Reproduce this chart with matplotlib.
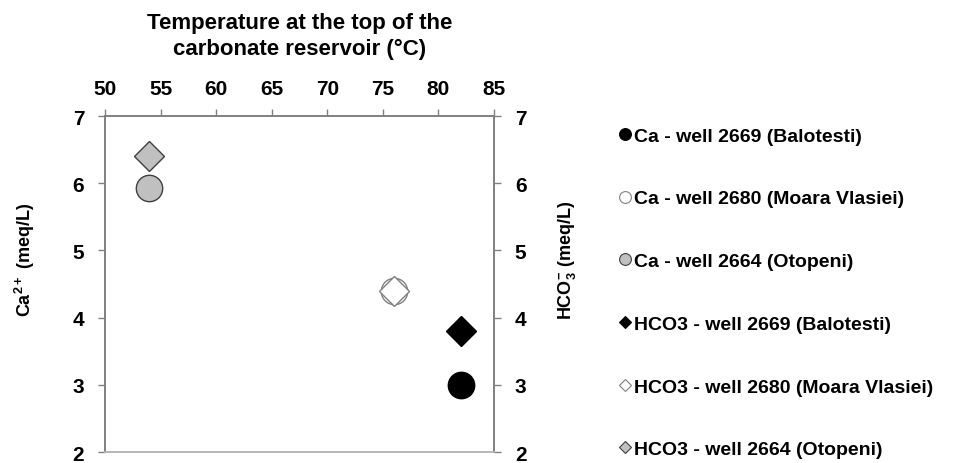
import matplotlib
matplotlib.use('Agg')
import matplotlib.pyplot as plt
from matplotlib.lines import Line2D

plt.rcParams['font.family'] = ['Liberation Sans', 'DejaVu Sans']
plt.rcParams['font.weight'] = 'bold'
plt.rcParams['mathtext.fontset'] = 'custom'
plt.rcParams['mathtext.rm'] = 'Liberation Sans:bold'
plt.rcParams['mathtext.bf'] = 'Liberation Sans:bold'
plt.rcParams['mathtext.default'] = 'bf'

# wells: 2669 (Balotesti), 2680 (Moara Vlasiei), 2664 (Otopeni)
wells = ['2669 (Balotesti)', '2680 (Moara Vlasiei)', '2664 (Otopeni)']
temperature = [82, 76, 54]
ca = [3.0, 4.4, 5.93]
hco3 = [3.8, 4.4, 6.4]

x_ticks = [50, 55, 60, 65, 70, 75, 80, 85]
y_ticks = [2, 3, 4, 5, 6, 7]

face = ['black', 'white', '#c0c0c0']
edge = ['black', '#808080', '#404040']

fig = plt.figure(figsize=(9.76, 4.64), dpi=100)
ax = fig.add_axes([0.1076, 0.0237, 0.3986, 0.7241])
ax2 = ax.twinx()

# Ca circles (left axis) then HCO3 diamonds (right axis)
for i in range(len(wells)):
    ax.plot(temperature[i], ca[i], ls='none', marker='o', ms=19,
            mfc=face[i], mec=edge[i], mew=1.0, zorder=3)
    ax2.plot(temperature[i], hco3[i], ls='none', marker='D', ms=15,
             mfc=face[i], mec=edge[i], mew=1.0, zorder=4)

for a in (ax, ax2):
    a.set_xlim(50, 85)
    a.set_ylim(2, 7)
    a.set_yticks(y_ticks)
    for side in ('left', 'right', 'top'):
        a.spines[side].set_color('#808080')
        a.spines[side].set_linewidth(1.2)
    a.spines['bottom'].set_color('#b8b8b8')
    a.spines['bottom'].set_linewidth(1.2)

ax.xaxis.tick_top()
ax.set_xticks(x_ticks)
ax.tick_params(axis='x', direction='out', length=5, width=1, color='#808080',
               pad=8, labelsize=15)
ax.tick_params(axis='y', direction='out', length=5, width=1, color='#808080',
               pad=10, labelsize=15)
ax2.tick_params(axis='y', direction='out', length=5, width=1, color='#808080',
                pad=10, labelsize=15)

ax.xaxis.set_label_position('top')
ax.set_xlabel('Temperature at the top of the\ncarbonate reservoir (°C)',
              fontsize=16, fontweight='bold', labelpad=18, linespacing=1.3)

ax.set_ylabel('Ca$^{2+}$ (meq/L)', fontsize=13, fontweight='bold')
ax.yaxis.set_label_coords(-0.175, 0.574)
ax2.set_ylabel('HCO$_{3}^{-}$ (meq/L)', fontsize=13, fontweight='bold')
ax2.yaxis.set_label_coords(1.16, 0.574)

# legend
handles = []
labels = []
for i in range(len(wells)):
    handles.append(Line2D([], [], ls='none', marker='o', ms=8.5,
                          mfc=face[i], mec=edge[i], mew=0.8))
    labels.append('Ca - well ' + wells[i])
for i in range(len(wells)):
    handles.append(Line2D([], [], ls='none', marker='D', ms=6.5,
                          mfc=face[i], mec=edge[i], mew=0.8))
    labels.append('HCO3 - well ' + wells[i])

fig.legend(handles, labels, loc='upper left', bbox_to_anchor=(0.633, 0.724),
           frameon=False, fontsize=14, labelspacing=2.32,
           handlelength=0.7, handletextpad=0.15, borderpad=0, borderaxespad=0)

fig.savefig('out.png', dpi=100)
